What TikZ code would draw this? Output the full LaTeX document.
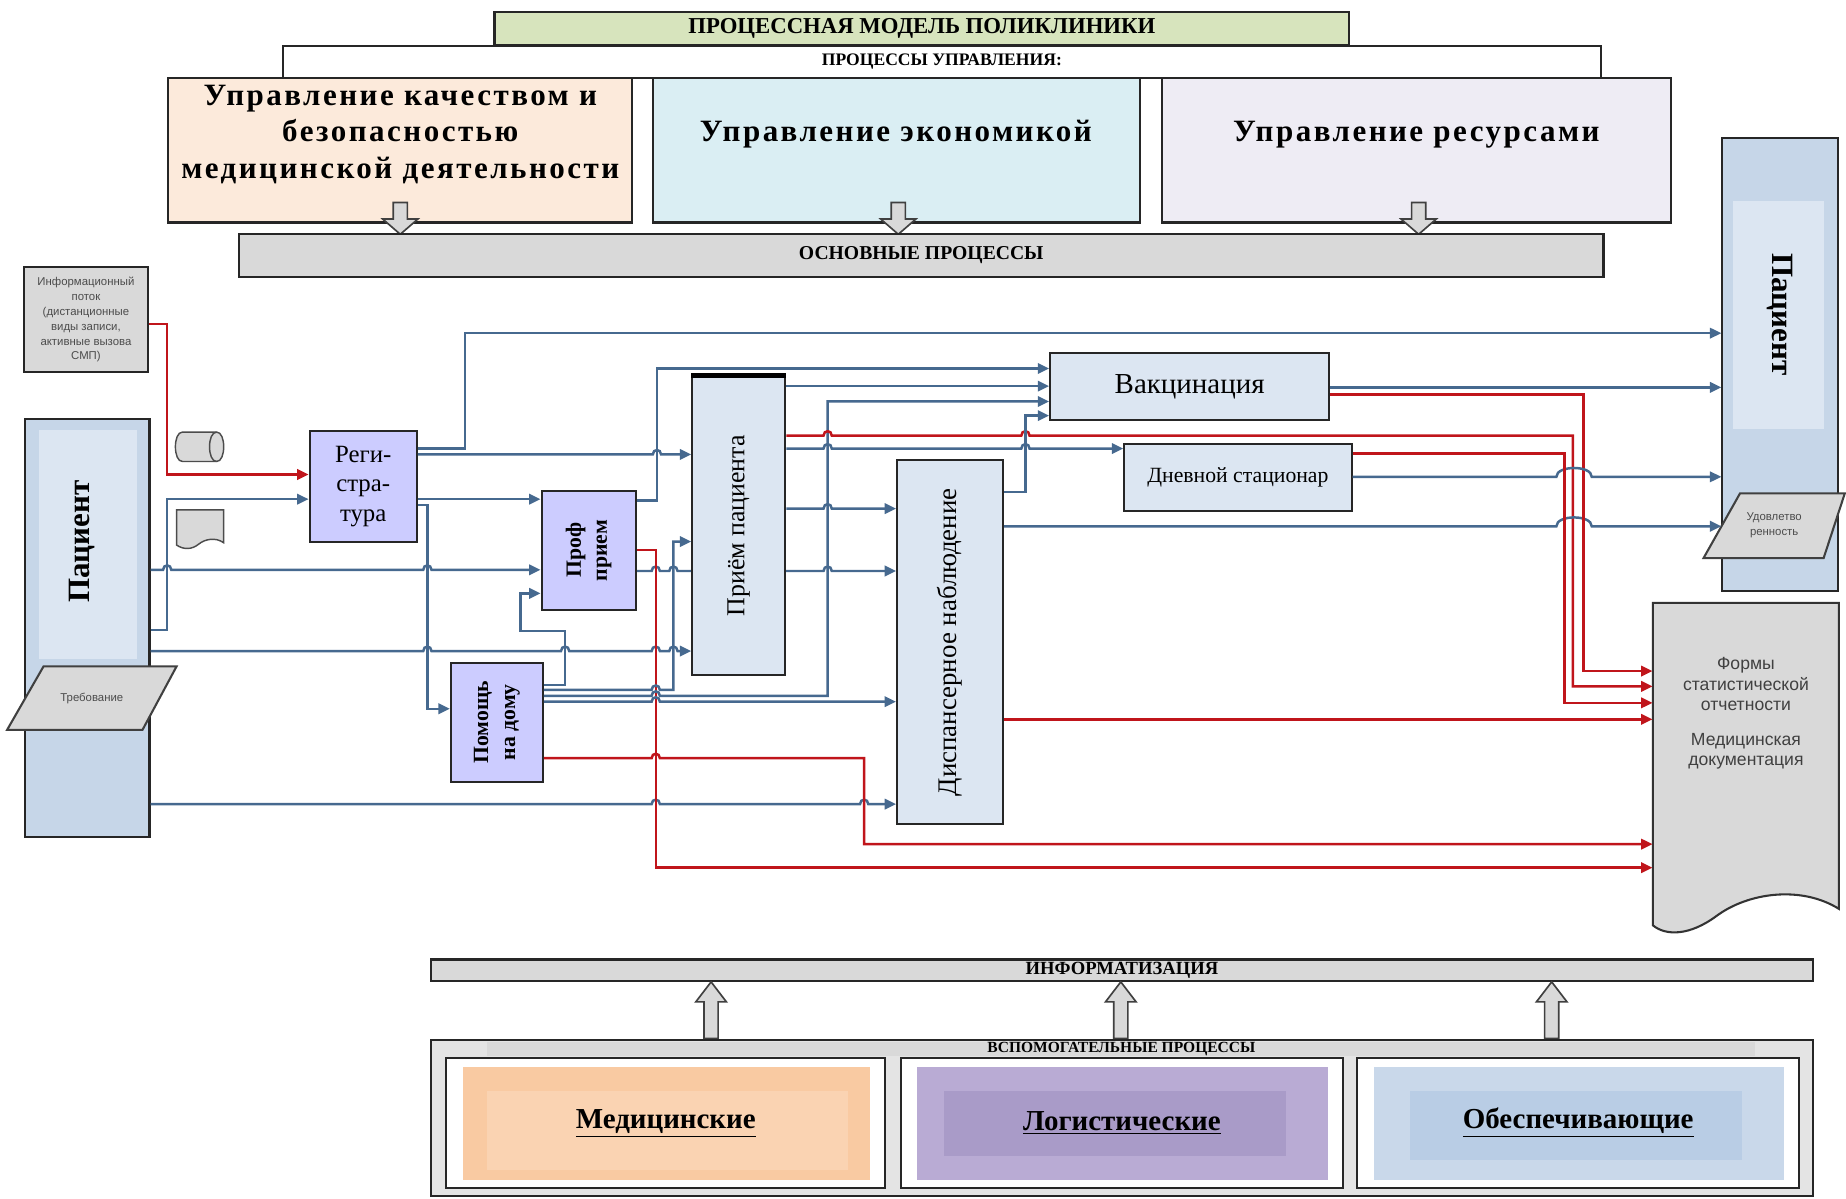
\documentclass[tikz,border=0pt]{standalone}
\usepackage{fontspec}
\setmainfont{Liberation Serif}
\newfontfamily\spcd[LetterSpace=8]{Liberation Serif}
\newfontfamily\sansf{Liberation Sans}
\usetikzlibrary{fit,arrows.meta,backgrounds}

\definecolor{bluel}{HTML}{46698F}
\definecolor{redl}{HTML}{C0151B}
\definecolor{greyfill}{HTML}{D9D9D9}
\definecolor{auxgrey}{HTML}{E4E4E4}
\definecolor{titlegreen}{HTML}{D7E4BD}
\definecolor{peach}{HTML}{FCEADB}
\definecolor{cyanl}{HTML}{DAEEF3}
\definecolor{lavl}{HTML}{EEECF4}
\definecolor{procv}{HTML}{CCCCFF}
\definecolor{procb}{HTML}{DCE6F2}
\definecolor{patout}{HTML}{C6D6E8}
\definecolor{patin}{HTML}{DCE6F2}
\definecolor{medo}{HTML}{F9CAA2}
\definecolor{medi}{HTML}{FAD3B2}
\definecolor{logo}{HTML}{B9ABD4}
\definecolor{logi}{HTML}{A99BC8}
\definecolor{obeo}{HTML}{C9D8EA}
\definecolor{obei}{HTML}{B9CDE5}

\tikzset{
  frame/.style={draw=black!85, line width=1pt, inner sep=0pt},
  greyframe/.style={frame, fill=greyfill},
  procframe/.style={frame, fill=procv},
  mainframe/.style={frame, fill=procb},
  flow/.style={draw=bluel, line width=1.2pt, -{Triangle[length=5.5pt,width=5pt]}},
  redflow/.style={flow, draw=redl},
  hollowarrow/.style={fill=greyfill, draw=black!75, line width=0.8pt}
}
\newcommand\jmp[2]{-- (#1-3.5,#2) .. controls (#1-3.5,#2-5) and (#1+3.5,#2-5) .. (#1+3.5,#2)}
\newcommand\jmpw[3]{-- (#1,#3) .. controls (#1,#3-10) and (#2,#3-10) .. (#2,#3)}

\begin{document}
\begin{tikzpicture}[x=0.02cm, y=-0.02cm]
\useasboundingbox (0,0) rectangle (1568,1018);

\node[frame, fill=titlegreen, fit={(420,10) (1146,38)}] (title) {};
\node[font=\bfseries\fontsize{11}{13}\selectfont] (titleT) at (title.center) {ПРОЦЕССНАЯ МОДЕЛЬ ПОЛИКЛИНИКИ};
\node[frame, fill=white, fit={(240,39) (1360,66)}] (mgmt) {};
\node[font=\bfseries\fontsize{8.5}{10}\selectfont] (mgmtT) at (mgmt.center) {ПРОЦЕССЫ УПРАВЛЕНИЯ:};
\node[frame, fill=peach, fit={(143,66) (537,189)}] (qual) {};
\node[frame, fill=cyanl, fit={(555,66) (968,189)}] (econ) {};
\node[frame, fill=lavl, fit={(987,66) (1419,189)}] (res) {};
\node[font=\spcd\bfseries\fontsize{15}{17.6}\selectfont, align=center] (qualT) at (340,114) {Управление качеством и\\безопасностью\\медицинской деятельности};
\node[font=\spcd\bfseries\fontsize{15}{17.6}\selectfont] (econT) at (761,114) {Управление экономикой};
\node[font=\spcd\bfseries\fontsize{15}{17.6}\selectfont] (resT) at (1203,114) {Управление ресурсами};
\foreach \x in {340,763,1205}
  \filldraw[hollowarrow] (\x-6,172) -- (\x+6,172) -- (\x+6,186) -- (\x+15,186) -- (\x,199) -- (\x-15,186) -- (\x-6,186) -- cycle;
\node[greyframe, fit={(203,199) (1362,235)}] (osn) {};
\node[font=\bfseries\fontsize{9.5}{11}\selectfont] (osnT) at (osn.center) {ОСНОВНЫЕ ПРОЦЕССЫ};

\node[greyframe, fit={(20,227) (126,316)}] (info) {};
\node[font=\sansf\fontsize{5.5}{7.2}\selectfont, align=center, text=black!70] (infoT) at (info.center) {Информационный\\поток\\(дистанционные\\виды записи,\\активные вызова\\СМП)};

\node[frame, fill=patout, fit={(21,356) (127,711)}] (patL) {};
\fill[patin] (33,365) rectangle (116,560);
\node[rotate=90, font=\bfseries\fontsize{15}{17}\selectfont] (patLT) at (70,460) {Пациент};
\filldraw[fill=greyfill, draw=black!75, line width=1pt] (6,620) -- (37,566) -- (150,566) -- (121,620) -- cycle;
\node[font=\sansf\fontsize{5.5}{7}\selectfont, text=black!70] (treb) at (78,593) {Требование};

\filldraw[fill=greyfill, draw=black!70, line width=0.7pt] (155,367) -- (184,367) .. controls (188,367) and (190,373) .. (190,379.5) .. controls (190,386) and (188,392) .. (184,392) -- (155,392) .. controls (151,392) and (149,386) .. (149,379.5) .. controls (149,373) and (151,367) .. (155,367) -- cycle;
\draw[black!70, line width=0.7pt] (184,367) .. controls (180,367) and (178,373) .. (178,379.5) .. controls (178,386) and (180,392) .. (184,392);
\filldraw[fill=greyfill, draw=black!70, line width=0.7pt] (150,433) -- (190,433) -- (190,461) .. controls (183,456) and (174,458) .. (169,462) .. controls (163,467) and (156,467) .. (150,463) -- cycle;

\node[procframe, fit={(263,366) (354,460)}] (reg) {};
\node[font=\fontsize{12}{14.2}\selectfont, align=center] (regT) at (reg.center) {Реги-\\стра-\\тура};
\node[procframe, fit={(460,417) (540,518)}] (prof) {};
\node[rotate=90, font=\bfseries\fontsize{10.5}{12.5}\selectfont, align=center] (profT) at (prof.center) {Проф\\прием};
\node[procframe, fit={(383,563) (461,664)}] (home) {};
\node[rotate=90, font=\bfseries\fontsize{10.5}{13}\selectfont, align=center] (homeT) at (home.center) {Помощь\\на дому};
\node[mainframe, fit={(588,320) (667,573)}] (recep) {};
\draw[line width=2.5pt] (recep.north west) -- (recep.north east);
\node[rotate=90, font=\fontsize{12.5}{15}\selectfont] (recepT) at (recep.center) {Приём пациента};
\node[mainframe, fit={(762,391) (852,700)}] (disp) {};
\node[rotate=90, font=\fontsize{13}{15}\selectfont] (dispT) at (disp.center) {Диспансерное наблюдение};
\node[mainframe, fit={(892,300) (1129,357)}] (vacc) {};
\node[font=\fontsize{14}{16}\selectfont] (vaccT) at (vacc.center) {Вакцинация};
\node[mainframe, fit={(955,377) (1148,434)}] (dstac) {};
\node[font=\fontsize{10.5}{12}\selectfont] (dstacT) at (dstac.center) {Дневной стационар};

\node[frame, fill=patout, fit={(1463,117) (1561,502)}] (patR) {};
\fill[patin] (1472,171) rectangle (1549,364);
\node[rotate=-90, font=\bfseries\fontsize{15}{17}\selectfont] (patRT) at (1512,267) {Пациент};
\filldraw[fill=greyfill, draw=black!75, line width=1pt] (1447,474) -- (1478,419) -- (1567,419) -- (1549,474) -- cycle;
\node[font=\sansf\fontsize{5.5}{7}\selectfont, align=center, text=black!70] (udov) at (1507,446) {Удовлетво\\ренность};

\node[fit={(1404,512) (1562,772)}, inner sep=0pt] (forms) {};
\filldraw[fill=greyfill, draw=black!80, line width=1pt] (1404,512) -- (1562,512) -- (1562,772) .. controls (1530,752) and (1485,758) .. (1458,778) .. controls (1435,795) and (1415,795) .. (1404,786) -- cycle;
\node[font=\sansf\fontsize{8.5}{9.8}\selectfont, align=center, text=black!75] (formsT) at (1483,606) {Формы\\статистической\\отчетности\\[7pt]Медицинская\\документация};

\node[greyframe, fit={(366,815) (1540,833)}] (inf) {};
\node[font=\bfseries\fontsize{9}{10}\selectfont] (infT) at (inf.center) {ИНФОРМАТИЗАЦИЯ};
\foreach \x in {604,952,1318}
  \filldraw[hollowarrow] (\x-6,882) -- (\x-6,851) -- (\x-13,851) -- (\x,834) -- (\x+13,851) -- (\x+6,851) -- (\x+6,882) -- cycle;
\node[frame, fill=auxgrey, fit={(366,883) (1540,1016)}] (aux) {};
\node[fill=greyfill, inner sep=0pt, fit={(414,885) (1491,897)}] (auxH) {};
\node[font=\bfseries\fontsize{7.5}{8}\selectfont] (auxT) at (auxH.center) {ВСПОМОГАТЕЛЬНЫЕ ПРОЦЕССЫ};
\node[frame, fill=white, fit={(379,899) (752,1009)}] (med) {};
\fill[medo] (393,906) rectangle (739,1002);
\fill[medi] (414,927) rectangle (720,994);
\node[font=\bfseries\fontsize{14}{16}\selectfont] (medT) at (med.center) {\underline{Медицинские}};
\node[frame, fill=white, fit={(765,899) (1141,1009)}] (logi) {};
\fill[logo] (779,906) rectangle (1128,1002);
\fill[logi] (802,927) rectangle (1092,982);
\node[font=\bfseries\fontsize{14}{16}\selectfont] (logT) at (logi.center) {\underline{Логистические}};
\node[frame, fill=white, fit={(1153,899) (1528,1009)}] (obes) {};
\fill[obeo] (1167,906) rectangle (1515,1002);
\fill[obei] (1198,927) rectangle (1480,985);
\node[font=\bfseries\fontsize{14}{16}\selectfont] (obeT) at (obes.center) {\underline{Обеспечивающие}};

\draw[redflow] (info.east |- 0,275) -- (142,275) -- (142,403) -- (reg.west |- 0,403);
\draw[flow] (patL.east |- 0,535) -- (142,535) -- (142,424) -- (reg.west |- 0,424);
\draw[flow] (patL.east |- 0,484) \jmp{142}{484} \jmp{363}{484} -- (prof.west |- 0,484);
\draw[flow] (patL.east |- 0,553) \jmp{363}{553} \jmp{480}{553} \jmp{557}{553} \jmp{572}{553} -- (recep.west |- 0,553);
\draw[flow] (patL.east |- 0,683) \jmp{557}{683} \jmp{734}{683} -- (disp.west |- 0,683);
\draw[flow] (reg.east |- 0,381) -- (395,381) -- (395,283) -- (patR.west |- 0,283);
\draw[flow] (reg.east |- 0,386) \jmp{558}{386} -- (recep.west |- 0,386);
\draw[flow] (reg.east |- 0,424) -- (prof.west |- 0,424);
\draw[flow] (reg.east |- 0,429) -- (363,429) -- (363,602) -- (home.west |- 0,602);
\draw[flow] (prof.east |- 0,425) -- (558,425) -- (558,313) -- (vacc.west |- 0,313);
\draw[redflow] (prof.east |- 0,467) -- (557,467) -- (557,737) -- (forms.west |- 0,737);
\begin{pgfonlayer}{background}
\draw[flow] (prof.east |- 0,485) \jmp{557}{485} \jmp{572}{485} -- (recep.west |- 0,485) -- (recep.east |- 0,485) \jmp{703}{485} -- (disp.west |- 0,485);
\end{pgfonlayer}
\draw[flow] (home.east |- 0,582) -- (480,582) -- (480,536) -- (442,536) -- (442,504) -- (prof.west |- 0,504);
\draw[flow] (home.east |- 0,586) \jmp{557}{586} -- (572,586) -- (572,460) -- (recep.west |- 0,460);
\draw[flow] (home.east |- 0,591) \jmp{557}{591} -- (703,591) -- (703,341) -- (vacc.west |- 0,341);
\draw[flow] (home.east |- 0,596) \jmp{557}{596} -- (disp.west |- 0,596);
\draw[redflow] (home.east |- 0,644) \jmp{557}{644} -- (734,644) -- (734,717) -- (forms.west |- 0,717);
\draw[flow] (recep.east |- 0,328) -- (vacc.west |- 0,328);
\draw[redflow] (recep.east |- 0,370) \jmp{703}{370} \jmp{871}{370} -- (1336,370) -- (1336,583) -- (forms.west |- 0,583);
\draw[flow] (recep.east |- 0,381) \jmp{703}{381} \jmp{871}{381} -- (dstac.west |- 0,381);
\draw[flow] (recep.east |- 0,432) \jmp{703}{432} -- (disp.west |- 0,432);
\draw[flow] (disp.east |- 0,418) -- (871,418) -- (871,353) -- (vacc.west |- 0,353);
\draw[flow] (disp.east |- 0,447) \jmpw{1322}{1352}{447} -- (patR.west |- 0,447);
\draw[redflow] (disp.east |- 0,611) -- (forms.west |- 0,611);
\draw[flow] (vacc.east |- 0,329) -- (patR.west |- 0,329);
\draw[redflow] (vacc.east |- 0,335) -- (1345,335) -- (1345,570) -- (forms.west |- 0,570);
\draw[flow] (dstac.east |- 0,405) \jmpw{1322}{1352}{405} -- (patR.west |- 0,405);
\draw[redflow] (dstac.east |- 0,385) -- (1329,385) -- (1329,597) -- (forms.west |- 0,597);
\end{tikzpicture}
\end{document}
